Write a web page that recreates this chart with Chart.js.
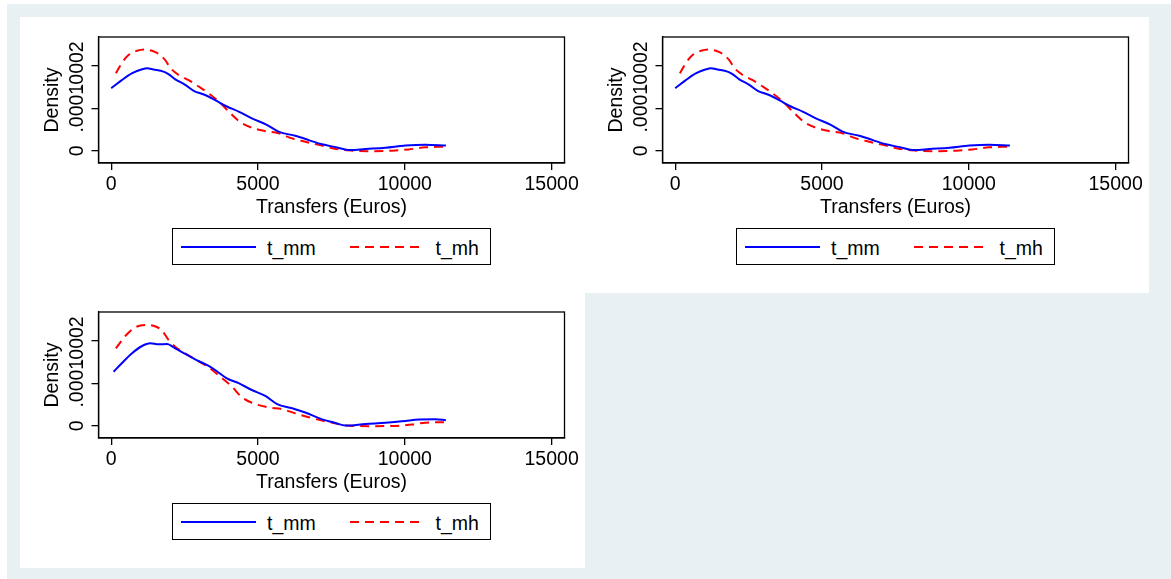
<!DOCTYPE html>
<html>
<head>
<meta charset="utf-8">
<script src="https://cdn.jsdelivr.net/npm/chart.js@4"></script>
<style>
  body { margin: 0; width: 1171px; height: 579px; position: relative; overflow: hidden; background: #fff;
         font-family: "Liberation Sans", Arial, sans-serif; }
  .backdrop { position: absolute; left: 7px; top: 4px; right: 0; bottom: 0; background: #e9f0f3; }
  .panel { position: absolute; width: 565px; height: 276px; background: #fff; }
  .panel canvas { position: absolute; left: 0; top: 0; }
  .legend { position: absolute; left: 152px; top: 211px; width: 319px; height: 37px; box-sizing: border-box; border: 1px solid #000; }
  .legend svg { position: absolute; top: 16px; }
  .legend span { position: absolute; top: 2px; line-height: 35px; font-size: 19.5px; color: #000; }
</style>
</head>
<body>
<div class="backdrop"></div>
<div id="panels"></div>
<script>
const xTicks = [0, 5000, 10000, 15000];
const xTickLabels = ['0', '5000', '10000', '15000'];
const yTicks = [0, 0.0001, 0.0002];
const yTickLabels = ['0', '.0001', '.0002'];
const xTitle = 'Transfers (Euros)';
const yTitle = 'Density';

const seriesNames = ['t_mm', 't_mh'];
const seriesColors = ['#0000ff', '#ff0000'];
const seriesDash = [[], [9, 6]];

// top row: both graphs show the same two densities
const topMmX = [0, 360, 700, 1050, 1220, 1440, 1780, 1950, 2180, 2520, 2810, 3200, 3540, 3940, 4340, 4790,
  5300, 5700, 6270, 6730, 7180, 7610, 8150, 8660, 9340, 10020, 10700, 11400];
const topMmY = [0.000147, 0.000166, 0.000182, 0.0001915, 0.000194, 0.000191, 0.000186, 0.00018, 0.000168,
  0.000155, 0.000141, 0.000131, 0.000119, 0.000104, 0.000092, 0.000076, 0.000061, 0.000045, 0.000035,
  0.000025, 0.000015, 0.000009, 0.0000016, 0.000004, 0.000007, 0.000012, 0.000014, 0.000012];
const topMhX = [160, 360, 590, 880, 1160, 1390, 1670, 1840, 2010, 2300, 2640, 2980, 3320, 3720, 4060, 4400,
  4790, 5250, 5700, 6160, 6610, 7180, 7750, 8200, 8880, 9570, 10130, 10700, 11380];
const topMhY = [0.000182, 0.000206, 0.000225, 0.000235, 0.000238, 0.000235, 0.000225, 0.000213, 0.000195,
  0.000178, 0.000166, 0.000151, 0.000135, 0.000112, 0.000088, 0.000067, 0.000054, 0.000046, 0.000041,
  0.000029, 0.000021, 0.000012, 0.000003, 0.0000002, -0.000001, 0.0000002, 0.000003, 0.000008, 0.0000095];

// bottom graph
const botMmX = [80, 360, 700, 1050, 1330, 1610, 1900, 2180, 2520, 2860, 3320, 3540, 3940, 4340, 4790, 5250,
  5650, 6160, 6610, 7180, 7610, 7980, 8660, 9340, 10020, 10360, 11040, 11400];
const botMmY = [0.000127, 0.000147, 0.00017, 0.0001875, 0.000194, 0.0001915, 0.000192, 0.000182, 0.000169,
  0.000156, 0.0001405, 0.000131, 0.0001115, 0.0001, 0.000084, 0.00007, 0.000051, 0.000041, 0.000031,
  0.000015, 0.000007, 0.0000003, 0.000004, 0.000007, 0.000011, 0.000014, 0.000015, 0.000013];
const botMhX = [160, 480, 820, 1160, 1440, 1730, 1950, 2180, 2520, 2860, 3320, 3720, 4110, 4450, 4790, 5360,
  5820, 6270, 6730, 7180, 7610, 7980, 8880, 9680, 10250, 10700, 11380];
const botMhY = [0.000182, 0.000211, 0.0002315, 0.000237, 0.000235, 0.000224, 0.000202, 0.000186, 0.00017,
  0.000156, 0.000137, 0.000115, 0.000092, 0.000067, 0.000054, 0.000043, 0.000039, 0.000029, 0.00002,
  0.000012, 0.000006, 0.0000005, -0.000001, -0.0000005, 0.000003, 0.000007, 0.0000085];

const panels = [
  { left: 20, top: 17, series: [[topMmX, topMmY], [topMhX, topMhY]] },
  { left: 584, top: 17, series: [[topMmX, topMmY], [topMhX, topMhY]] },
  { left: 20, top: 292, series: [[botMmX, botMmY], [botMhX, botMhY]] }
];

const FONT = '"Liberation Sans", Arial, sans-serif';
const FONT_SIZE = 19.5;
Chart.defaults.font.family = FONT;
Chart.defaults.font.size = FONT_SIZE;
Chart.defaults.color = '#000';

function zip(xs, ys) {
  return xs.map((x, i) => ({ x: x, y: ys[i] }));
}

// full box round the plot region + the y tick labels written sideways
const framePlugin = {
  id: 'frame',
  afterDraw(chart) {
    const { ctx, chartArea: a } = chart;
    const ys = chart.scales.y;
    ctx.save();
    ctx.strokeStyle = '#000';
    ctx.lineWidth = 1.3;
    ctx.strokeRect(a.left, a.top, a.right - a.left, a.bottom - a.top);
    ctx.fillStyle = '#000';
    ctx.font = FONT_SIZE + 'px ' + FONT;
    ctx.textAlign = 'center';
    ctx.textBaseline = 'alphabetic';
    ys.ticks.forEach((t, i) => {
      ctx.save();
      ctx.translate(ys.right - 15.5, ys.getPixelForValue(t.value));
      ctx.rotate(-Math.PI / 2);
      ctx.fillText(yTickLabels[i], 0, 0);
      ctx.restore();
    });
    ctx.restore();
  }
};

function makeLegend(panelDiv) {
  const box = document.createElement('div');
  box.className = 'legend';
  seriesNames.forEach((name, i) => {
    const off = i * 168.6;
    const svg = document.createElementNS('http://www.w3.org/2000/svg', 'svg');
    svg.setAttribute('width', 75);
    svg.setAttribute('height', 4);
    svg.style.left = (8 + off) + 'px';
    const ln = document.createElementNS('http://www.w3.org/2000/svg', 'line');
    ln.setAttribute('x1', 0); ln.setAttribute('x2', 75);
    ln.setAttribute('y1', 2); ln.setAttribute('y2', 2);
    ln.setAttribute('stroke', seriesColors[i]);
    ln.setAttribute('stroke-width', 2);
    if (seriesDash[i].length) ln.setAttribute('stroke-dasharray', seriesDash[i].join(' '));
    svg.appendChild(ln);
    box.appendChild(svg);
    const txt = document.createElement('span');
    txt.textContent = name;
    txt.style.left = (94 + off) + 'px';
    box.appendChild(txt);
  });
  panelDiv.appendChild(box);
}

const holder = document.getElementById('panels');

panels.forEach(p => {
  const div = document.createElement('div');
  div.className = 'panel';
  div.style.left = p.left + 'px';
  div.style.top = p.top + 'px';
  const canvas = document.createElement('canvas');
  canvas.width = 565;
  canvas.height = 211;
  div.appendChild(canvas);
  holder.appendChild(div);
  makeLegend(div);

  new Chart(canvas, {
    type: 'line',
    data: {
      datasets: p.series.map((s, i) => ({
        label: seriesNames[i],
        data: zip(s[0], s[1]),
        borderColor: seriesColors[i],
        backgroundColor: seriesColors[i],
        borderDash: seriesDash[i],
        borderWidth: 2,
        pointRadius: 0,
        fill: false,
        cubicInterpolationMode: 'monotone'
      }))
    },
    options: {
      responsive: false,
      animation: false,
      devicePixelRatio: 1,
      events: [],
      layout: { padding: { left: 16.5, top: 20, right: 20.5, bottom: 5 } },
      plugins: { legend: { display: false }, tooltip: { enabled: false } },
      scales: {
        x: {
          type: 'linear',
          min: -433,
          max: 15439,
          afterBuildTicks: s => { s.ticks = xTicks.map(v => ({ value: v })); },
          afterFit: s => { s.height = 60; },
          ticks: { autoSkip: false, maxRotation: 0, padding: 3, callback: (v, i) => xTickLabels[i] },
          grid: { drawOnChartArea: false, tickLength: 7, color: '#000', lineWidth: 1.3 },
          border: { display: true, color: '#000', width: 1.3 },
          title: { display: true, text: xTitle, padding: { top: 0, bottom: 4 } }
        },
        y: {
          type: 'linear',
          min: -0.0000289,
          max: 0.0002675,
          afterBuildTicks: s => { s.ticks = yTicks.map(v => ({ value: v })); },
          afterFit: s => { s.width = 62; },
          ticks: { display: false },
          grid: { drawOnChartArea: false, tickLength: 7, color: '#000', lineWidth: 1.3 },
          border: { display: true, color: '#000', width: 1.3 },
          title: { display: true, text: yTitle, padding: { top: 4, bottom: 0 } }
        }
      }
    },
    plugins: [framePlugin]
  });
});
</script>
</body>
</html>
